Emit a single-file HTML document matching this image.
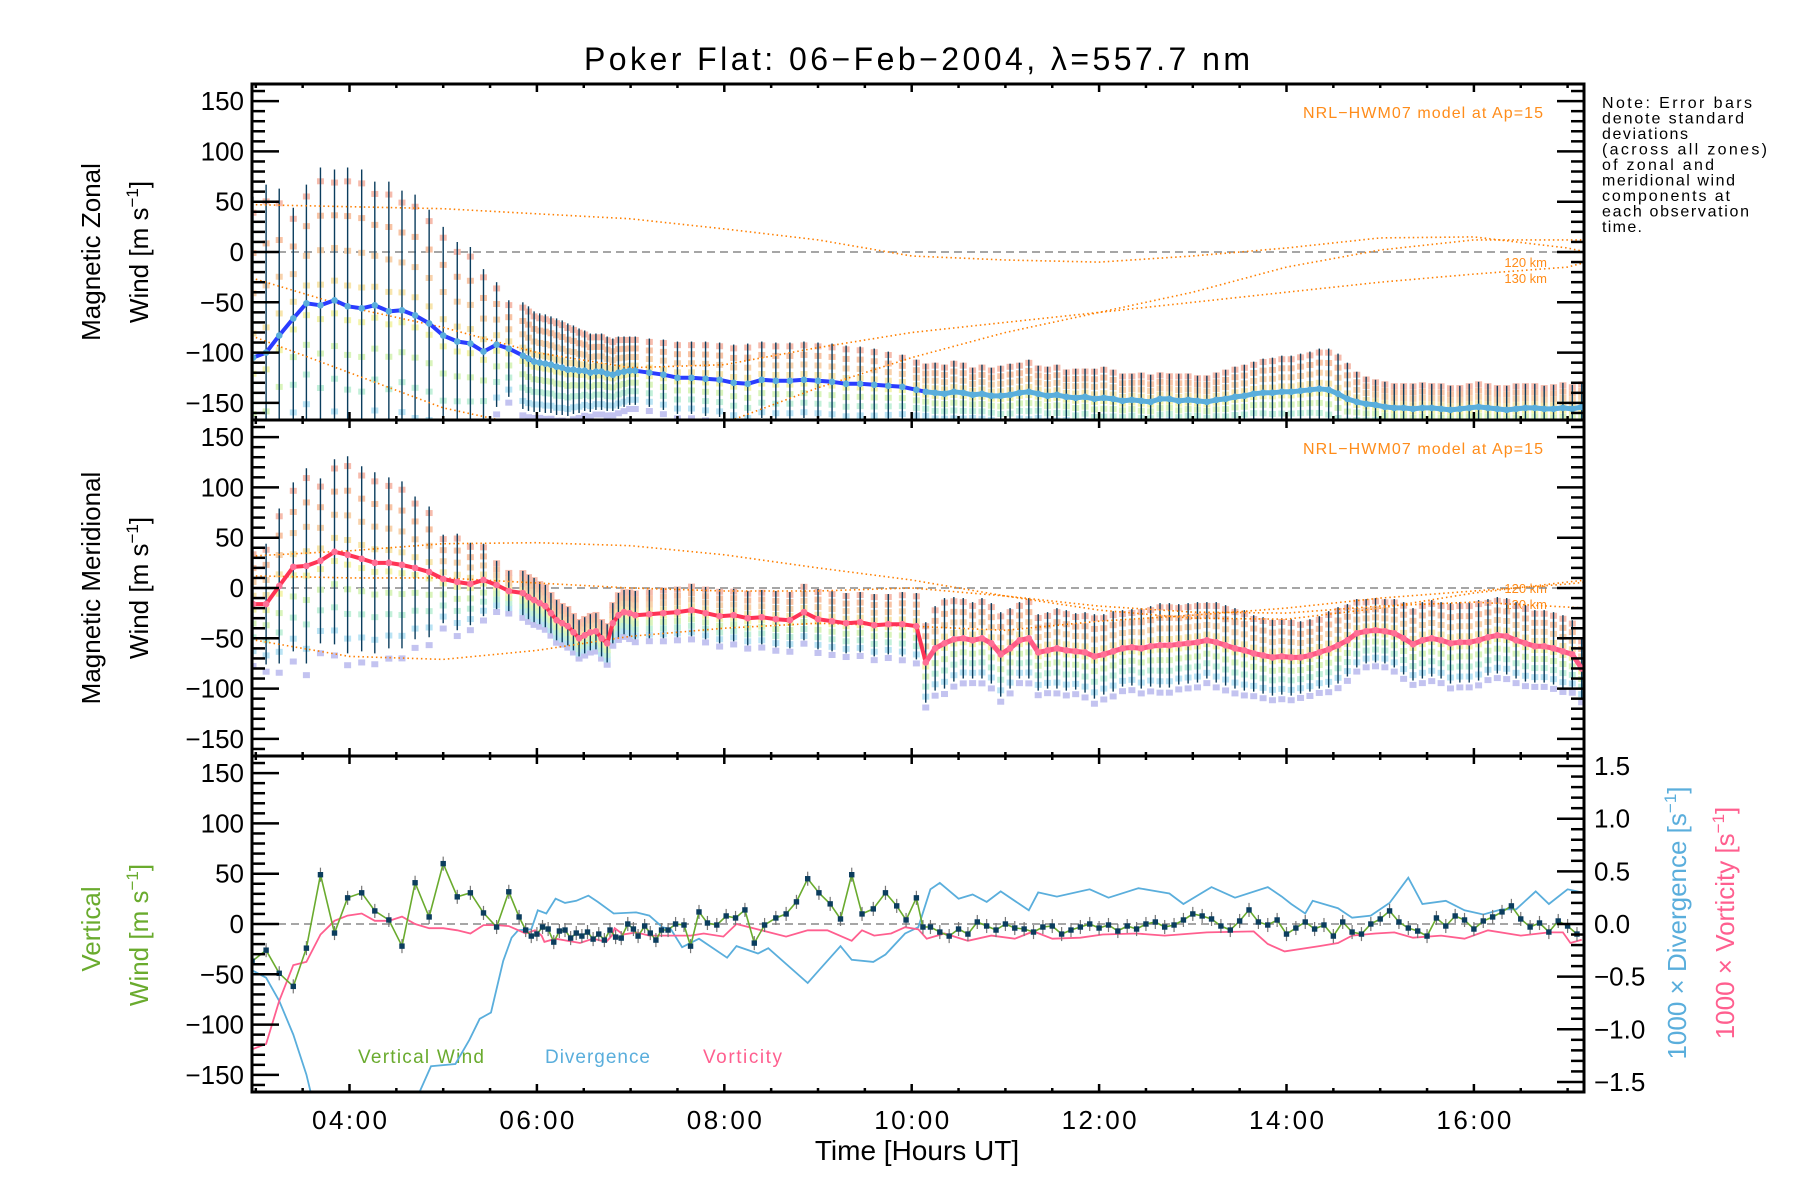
<!DOCTYPE html>
<html><head><meta charset="utf-8"><title>Poker Flat winds</title>
<style>
html,body{margin:0;padding:0;background:#fff;}
svg{display:block;font-family:"Liberation Sans",sans-serif;}
</style></head>
<body>
<svg id="chart" xmlns="http://www.w3.org/2000/svg" width="1800" height="1200" viewBox="0 0 1800 1200">
<defs>
<clipPath id="clip0"><rect x="252" y="84" width="1332" height="336"/></clipPath>
<clipPath id="clip1"><rect x="252" y="420" width="1332" height="336"/></clipPath>
<clipPath id="clip2"><rect x="252" y="756" width="1332" height="336"/></clipPath>
</defs>
<rect x="0" y="0" width="1800" height="1200" fill="#fff"/>
<text x="917" y="70" text-anchor="middle" font-size="32" textLength="666">Poker Flat: 06−Feb−2004, λ=557.7 nm</text>
<g font-size="16" fill="#000">
<text x="1602" y="108" textLength="150">Note: Error bars</text>
<text x="1602" y="123.5" textLength="142">denote standard</text>
<text x="1602" y="139" textLength="86">deviations</text>
<text x="1602" y="154.5" textLength="165">(across all zones)</text>
<text x="1602" y="170" textLength="112">of zonal and</text>
<text x="1602" y="185.5" textLength="133">meridional wind</text>
<text x="1602" y="201" textLength="128">components at</text>
<text x="1602" y="216.5" textLength="147">each observation</text>
<text x="1602" y="232" textLength="40">time.</text>
</g>
<text transform="translate(100,252) rotate(-90)" text-anchor="middle" font-size="26">Magnetic Zonal</text>
<text transform="translate(148,252) rotate(-90)" text-anchor="middle" font-size="26">Wind [m s<tspan dy="-10" font-size="17">−1</tspan><tspan dy="10">]</tspan></text>
<text transform="translate(100,588) rotate(-90)" text-anchor="middle" font-size="26">Magnetic Meridional</text>
<text transform="translate(148,588) rotate(-90)" text-anchor="middle" font-size="26">Wind [m s<tspan dy="-10" font-size="17">−1</tspan><tspan dy="10">]</tspan></text>
<text transform="translate(100,929) rotate(-90)" text-anchor="middle" font-size="26" fill="#6aab2e">Vertical</text>
<text transform="translate(148,935) rotate(-90)" text-anchor="middle" font-size="26" fill="#6aab2e">Wind [m s<tspan dy="-10" font-size="17">−1</tspan><tspan dy="10">]</tspan></text>
<text transform="translate(1686,923) rotate(-90)" text-anchor="middle" font-size="26" fill="#5aaedc">1000 × Divergence [s<tspan dy="-10" font-size="17">−1</tspan><tspan dy="10">]</tspan></text>
<text transform="translate(1734,923) rotate(-90)" text-anchor="middle" font-size="26" fill="#ff5f8f">1000 × Vorticity [s<tspan dy="-10" font-size="17">−1</tspan><tspan dy="10">]</tspan></text>
<text x="917" y="1160" text-anchor="middle" font-size="28">Time [Hours UT]</text>
<text x="1543" y="118" text-anchor="end" font-size="16" fill="#ff8c1a" textLength="240">NRL−HWM07 model at Ap=15</text>
<text x="1543" y="454" text-anchor="end" font-size="16" fill="#ff8c1a" textLength="240">NRL−HWM07 model at Ap=15</text>
<text x="1547" y="267" text-anchor="end" font-size="13" fill="#ff8c1a">120 km</text>
<text x="1547" y="283" text-anchor="end" font-size="13" fill="#ff8c1a">130 km</text>
<text x="1547" y="593" text-anchor="end" font-size="13" fill="#ff8c1a">120 km</text>
<text x="1547" y="609" text-anchor="end" font-size="13" fill="#ff8c1a">130 km</text>
<text x="358" y="1063" font-size="19" fill="#6aab2e" textLength="126">Vertical Wind</text>
<text x="545" y="1063" font-size="19" fill="#5aaedc" textLength="105">Divergence</text>
<text x="703" y="1063" font-size="19" fill="#ff5f8f" textLength="79">Vorticity</text>
</svg>
<script>
// ---------- data ----------
const tEarly=[2.97,3.11,3.25,3.40,3.54,3.69,3.84,3.98,4.13,4.27,4.42,4.56,4.70,4.85,5.00,5.15,5.29,5.43,5.57,5.70];
const zonalEarly=[-105,-100,-83,-66,-51,-53,-48,-54,-56,-53,-59,-58,-63,-71,-83,-89,-91,-99,-92,-96];
const zonalSdEarly=[160,167,146,110,118,137,130,138,138,123,129,119,120,113,108,99,96,82,62,48];
const zonalMid1=[-103,-106,-109,-110,-111,-112,-114,-115,-117,-117,-118,-118,-120,-119,-119,-121,-122,-120,-119,-118,-118];
const zonalSdMid1=[53,52,50,49,49,48,48,47,46,44,42,40,39,38,38,37,36,36,35,34,34];
const zonalMid2=[-120,-122,-125,-125,-126,-127,-130,-131,-127,-128,-128,-127,-128,-129,-131,-131,-132,-133,-134,-137];
const zonalSdMid2=[34,35,36,36,37,37,38,40,38,38,38,38,38,38,38,37,36,34,32,30];
const zonalLate=[-139,-140,-141,-139,-140,-142,-141,-143,-143,-142,-140,-139,-141,-143,-142,-144,-145,-144,-146,-145,-146,-148,-147,-148,-149,-146,-146,-148,-147,-148,-149,-147,-146,-144,-143,-141,-140,-140,-139,-139,-138,-137,-136,-137,-141,-146,-149,-151,-152,-154,-155,-155,-156,-155,-155,-156,-157,-156,-155,-154,-155,-156,-157,-156,-155,-155,-156,-156,-155,-156,-154];
const zonalSdLate=[28,30,29,31,30,27,29,28,30,31,30,32,28,29,30,27,29,28,30,31,29,27,26,28,27,26,25,27,26,25,26,27,29,30,31,32,34,35,36,36,37,38,40,41,40,36,30,27,25,25,24,24,25,25,24,25,24,23,24,25,24,23,24,25,24,24,23,24,25,24,25];
const meridEarly=[-16,-16,2,21,22,27,36,33,29,25,25,23,20,16,9,6,4,8,3,-3];
const meridSdEarly=[55,60,77,84,97,82,92,98,92,90,85,83,71,65,44,48,41,36,24,20];
const meridMid1=[-5,-9,-12,-15,-18,-25,-32,-35,-38,-44,-50,-47,-44,-43,-50,-55,-35,-27,-24,-25,-27];
const meridSdMid1=[22,22,22,21,21,20,20,19,19,18,18,18,18,18,18,19,20,22,22,23,24];
const meridMid2=[-26,-25,-24,-22,-25,-28,-27,-30,-29,-31,-32,-24,-31,-33,-35,-34,-37,-36,-36,-38];
const meridSdMid2=[24,25,25,26,26,27,26,27,27,28,28,28,30,30,30,30,31,30,32,33];
const meridLate=[-74,-60,-55,-51,-50,-52,-50,-55,-66,-60,-52,-50,-64,-62,-60,-62,-63,-64,-68,-66,-63,-60,-59,-60,-58,-57,-57,-56,-55,-54,-52,-54,-57,-60,-62,-65,-67,-69,-68,-69,-69,-67,-64,-61,-57,-52,-45,-43,-42,-43,-45,-50,-56,-52,-50,-52,-55,-54,-54,-52,-49,-47,-48,-52,-55,-58,-58,-60,-63,-66,-80];
const meridSdLate=[40,42,45,42,40,38,40,40,42,40,38,40,38,38,40,40,38,40,42,40,40,38,38,40,40,42,42,40,40,40,38,40,40,40,40,38,38,38,38,38,36,36,36,38,38,36,34,32,32,32,34,36,36,38,38,38,40,40,40,40,38,38,38,38,38,36,36,36,36,34,30];
// model curves (HWM07)
const modelT=[3,4,5,6,7,8,9,10,11,12,13,14,15,16,17,17.2];
const zonalModelA=[47,45,43,38,33,23,12,-4,-8,-10,-4,4,14,15,4,0];
const zonalModelB=[-27,-55,-75,-100,-115,-112,-95,-80,-70,-60,-50,-40,-30,-22,-15,-10];
const zonalModelC=[-85,-120,-155,-175,-178,-170,-135,-105,-80,-60,-40,-15,2,12,12,12];
const meridModelD=[32,37,44,45,42,33,20,8,-8,-22,-30,-31,-20,-5,6,8];
const meridModelE=[12,10,10,5,0,-3,-3,0,-8,-18,-24,-25,-18,-14,-19,-20];
const meridModelF=[-52,-68,-71,-62,-48,-40,-35,-38,-42,-33,-27,-20,-10,-3,4,6];
// vertical wind
const vertTimes=[2.96,3.11,3.25,3.40,3.54,3.69,3.84,3.98,4.13,4.27,4.42,4.56,4.70,4.85,5.00,5.15,5.29,5.43,5.57,5.70,5.81,5.88,
5.94,6.0,6.06,6.12,6.18,6.24,6.3,6.36,6.42,6.48,6.54,6.6,6.66,6.72,6.78,6.84,6.9,6.97,
7.03,7.08,7.15,7.21,7.27,7.33,7.40,7.48,
7.57,7.64,7.73,7.82,7.92,8.02,8.12,8.22,8.32,8.43,8.55,8.66,8.77,8.89,9.01,9.13,9.24,9.36,9.47,9.59,9.72,9.84,9.94,10.05,10.12];
const vertWind=[-37,-26,-49,-62,-24,49,-9,26,31,13,4,-22,41,7,60,27,31,11,-3,32,7,-6,
-12,-10,-3,-5,-18,-7,-6,-14,-9,-12,-8,-15,-10,-16,-6,-13,-14,0,
-5,-12,-2,-9,-16,-6,-6,0,
-1,-22,12,1,-1,8,6,14,-19,-1,6,10,22,45,31,20,5,49,10,15,31,18,4,26,-3];
const vertWindLate=[-3,-8,-12,-5,-10,2,-2,-6,0,-4,-5,-8,-3,-2,-10,-6,-3,0,-4,-1,-7,-2,-5,0,2,-3,-1,4,10,8,5,-2,-6,3,14,2,-1,4,-10,-4,2,-5,-1,-12,2,-8,-10,0,5,13,2,-4,-7,-12,6,-2,8,4,-5,3,7,12,18,5,-3,1,-8,3,-2,-10];
// divergence & vorticity (x1000 s^-1)
const divTimes=[2.96,3.11,3.25,3.40,3.54,3.60,4.72,4.87,5.13,5.28,5.39,5.51,5.64,5.73,5.80,5.94,6.01,6.10,6.20,6.30,6.42,6.55,6.65,6.82,7.06,7.20,7.34,7.43,7.55,7.73,8.03,8.13,8.36,8.47,8.89,9.01,9.24,9.36,9.59,9.72,9.93,10.07,10.20,10.30,10.50,10.65,10.80,10.95,11.25,11.35,11.55,11.90,12.10,12.42,12.75,12.90,13.20,13.45,13.80,13.95,14.05,14.20,14.28,14.55,14.70,14.90,15.10,15.30,15.45,15.70,15.90,16.10,16.30,16.45,16.66,16.80,17.00,17.15];
const divergence=[-0.44,-0.51,-0.73,-1.05,-1.43,-1.65,-1.65,-1.35,-1.33,-1.10,-0.90,-0.84,-0.35,-0.13,-0.06,-0.05,0.13,0.10,0.24,0.20,0.22,0.27,0.21,0.10,0.11,0.08,-0.03,-0.05,-0.22,-0.14,-0.32,-0.21,-0.28,-0.23,-0.56,-0.44,-0.21,-0.34,-0.36,-0.29,-0.09,-0.03,0.33,0.39,0.24,0.28,0.21,0.31,0.13,0.30,0.26,0.33,0.25,0.34,0.29,0.19,0.35,0.25,0.35,0.26,0.19,0.10,0.22,0.15,0.06,0.08,0.20,0.44,0.19,0.22,0.13,0.09,0.14,0.14,0.31,0.19,0.33,0.30];
const vortTimes=[2.96,3.11,3.25,3.40,3.54,3.69,3.84,3.98,4.13,4.27,4.42,4.56,4.70,4.85,5.00,5.15,5.29,5.43,5.57,5.70,5.88,5.98,6.05,6.08,6.20,6.46,6.60,6.74,6.80,6.83,6.92,7.06,7.20,7.64,7.78,7.99,8.13,8.66,8.89,9.10,9.36,9.47,9.60,9.78,9.93,10.07,10.16,10.35,10.60,10.85,11.10,11.30,11.50,11.80,12.04,12.40,12.70,13.15,13.65,13.80,13.98,14.35,14.55,14.70,14.95,15.15,15.35,15.65,15.90,16.15,16.50,16.80,16.95,17.03,17.15];
const vorticity=[-1.19,-1.14,-0.73,-0.39,-0.36,-0.10,0.03,0.08,0.10,0.03,0.03,0.07,0.00,-0.04,-0.04,-0.06,-0.09,-0.01,-0.01,-0.02,-0.09,-0.06,-0.11,-0.17,-0.14,-0.18,-0.14,-0.17,-0.11,-0.04,-0.10,-0.08,-0.11,-0.11,-0.09,-0.12,0.00,-0.12,-0.06,-0.06,-0.16,-0.06,-0.11,-0.09,-0.03,-0.05,-0.14,-0.09,-0.16,-0.11,-0.14,-0.07,-0.14,-0.13,-0.10,-0.09,-0.11,-0.08,-0.07,-0.19,-0.26,-0.21,-0.18,-0.11,-0.09,-0.08,-0.13,-0.11,-0.14,-0.06,-0.11,-0.08,-0.08,-0.18,-0.15];
const yTickLabels=["150","100","50","0","−50","−100","−150"];
const yTickValues=[150,100,50,0,-50,-100,-150];
const rTickLabels=["1.5","1.0","0.5","0.0","−0.5","−1.0","−1.5"];
const rTickValues=[1.5,1.0,0.5,0,-0.5,-1.0,-1.5];
const xTickLabels=["04:00","06:00","08:00","10:00","12:00","14:00","16:00"];
const xTickHours=[4,6,8,10,12,14,16];

// ---------- scales ----------
const NS="http://www.w3.org/2000/svg";
const svg=document.getElementById('chart');
const L=252,R=1584,H=336;
const tops=[84,420,756];
function xs(t){return 349.5+93.7*(t-4);}
function ys(p,v){return tops[p]+H/2-v*(H/334);}
function yr(v){return 924-v*105.3;}
function mk(parent,tag,attrs,name){
  const el=document.createElementNS(NS,tag);
  for(const k in attrs) el.setAttribute(k,attrs[k]);
  
  
  parent.appendChild(el);
  return el;
}
const obsT=[];
tEarly.forEach(t=>obsT.push(t));
for(let i=0;i<zonalMid1.length;i++) obsT.push(+(5.85+0.06*i).toFixed(3));
for(let i=0;i<zonalMid2.length;i++) obsT.push(+(7.2+0.15*i).toFixed(3));
for(let i=0;i<zonalLate.length;i++) obsT.push(+(10.15+0.1*i).toFixed(3));
const nLateStart=tEarly.length+zonalMid1.length+zonalMid2.length;
const zonalMean=[].concat(zonalEarly,zonalMid1,zonalMid2,zonalLate);
const zonalSd=[].concat(zonalSdEarly,zonalSdMid1,zonalSdMid2,zonalSdLate);
const meridMean=[].concat(meridEarly,meridMid1,meridMid2,meridLate);
const meridSd=[].concat(meridSdEarly,meridSdMid1,meridSdMid2,meridSdLate);

const zoneOffsets=[-1.12,-0.85,-0.6,-0.35,-0.1,0.15,0.4,0.65,0.9];
const zoneColors=["#c0c0f0","#b6e2f4","#bff0d8","#d8f4b8","#f4f4a8","#f8e4a8","#f8d0a8","#f8c0a0","#f6b8a8"];

function windPanel(p,mean,sd,lineCol,markCol,lateCol,models,nameBase){
  const g=mk(svg,'g',{'clip-path':'url(#clip'+p+')'},nameBase+'-plot-area');
  mk(g,'line',{x1:L,x2:R,y1:ys(p,0),y2:ys(p,0),stroke:'#888','stroke-width':1.5,'stroke-dasharray':'8,5'},nameBase+'-zero-line');
  const gz=mk(g,'g',{opacity:0.95},nameBase+'-zone-points');
  for(let i=0;i<mean.length;i++){
    for(let k=0;k<zoneOffsets.length;k++){
      const v=mean[i]+zoneOffsets[k]*sd[i];
      mk(gz,'rect',{x:xs(obsT[i])-3.5,y:ys(p,v)-3,width:7,height:6,fill:zoneColors[k]},nameBase+'-zone-point');
    }
  }
  const ge=mk(g,'g',{stroke:'#0b3d5e','stroke-width':1.4},nameBase+'-error-bars');
  for(let i=0;i<mean.length;i++){
    mk(ge,'line',{x1:xs(obsT[i]),x2:xs(obsT[i]),y1:ys(p,mean[i]+sd[i]),y2:ys(p,mean[i]-sd[i])},nameBase+'-error-bar');
  }
  models.forEach((m,j)=>{
    const pts=modelT.map((t,i)=>xs(t).toFixed(1)+','+ys(p,m[i]).toFixed(1)).join(' ');
    mk(g,'polyline',{points:pts,fill:'none',stroke:'#ff7f00','stroke-width':1.6,'stroke-dasharray':'1.5,3'},nameBase+'-model-curve');
  });
  const pts=mean.map((v,i)=>xs(obsT[i]).toFixed(1)+','+ys(p,v).toFixed(1)).join(' ');
  mk(g,'polyline',{points:pts,fill:'none',stroke:lineCol,'stroke-width':4,'stroke-linejoin':'round'},nameBase+'-mean-line');
  const ptsLate=mean.slice(nLateStart).map((v,i)=>xs(obsT[i+nLateStart]).toFixed(1)+','+ys(p,v).toFixed(1)).join(' ');
  mk(g,'polyline',{points:ptsLate,fill:'none',stroke:lateCol,'stroke-width':5,'stroke-linejoin':'round'},nameBase+'-mean-line-late');
  for(let i=0;i<mean.length;i++){
    mk(g,'circle',{cx:xs(obsT[i]),cy:ys(p,mean[i]),r:3.3,fill:markCol},nameBase+'-mean-marker');
  }
}
windPanel(0,zonalMean,zonalSd,'#2a3cff','#5aaedc','#5aaedc',[zonalModelA,zonalModelB,zonalModelC],'zonal');
windPanel(1,meridMean,meridSd,'#ff3355','#ff7096','#ff5a85',[meridModelD,meridModelE,meridModelF],'meridional');

(function(){
  const g=mk(svg,'g',{'clip-path':'url(#clip2)'},'vertical-plot-area');
  mk(g,'line',{x1:L,x2:R,y1:ys(2,0),y2:ys(2,0),stroke:'#888','stroke-width':1.5,'stroke-dasharray':'8,5'},'vertical-zero-line');
  const vt=vertTimes.slice(), vw=vertWind.slice();
  for(let i=0;i<vertWindLate.length;i++){vt.push(+(10.2+0.1*i).toFixed(3)); vw.push(vertWindLate[i]);}
  const dp=divTimes.map((t,i)=>xs(t).toFixed(1)+','+yr(divergence[i]).toFixed(1)).join(' ');
  mk(g,'polyline',{points:dp,fill:'none',stroke:'#5aaedc','stroke-width':1.8},'divergence-line');
  const vp=vortTimes.map((t,i)=>xs(t).toFixed(1)+','+yr(vorticity[i]).toFixed(1)).join(' ');
  mk(g,'polyline',{points:vp,fill:'none',stroke:'#ff5f8f','stroke-width':1.8},'vorticity-line');
  const ge=mk(g,'g',{stroke:'#777','stroke-width':1.2},'vertical-error-bars');
  vt.forEach((t,i)=>{
    mk(ge,'line',{x1:xs(t),x2:xs(t),y1:ys(2,vw[i]+7),y2:ys(2,vw[i]-7)},'vertical-error-bar');
  });
  const wp=vt.map((t,i)=>xs(t).toFixed(1)+','+ys(2,vw[i]).toFixed(1)).join(' ');
  mk(g,'polyline',{points:wp,fill:'none',stroke:'#6aab2e','stroke-width':1.6},'vertical-wind-line');
  vt.forEach((t,i)=>{
    mk(g,'rect',{x:xs(t)-2.7,y:ys(2,vw[i])-2.7,width:5.4,height:5.4,fill:'#0b3d5e'},'vertical-wind-marker');
  });
})();

const ga=mk(svg,'g',{stroke:'#000','stroke-width':2.5},'axes');
for(let p=0;p<3;p++){
  mk(ga,'rect',{x:L,y:tops[p],width:R-L,height:H,fill:'none','stroke-width':3},'panel-frame-'+(p+1));
  for(let v=-160;v<=160;v+=10){
    const y=ys(p,v);
    if(y<tops[p]+1||y>tops[p]+H-1) continue;
    const len=(v%50===0)?27:13;
    mk(ga,'line',{x1:L,x2:L+len,y1:y,y2:y},'y-tick');
    if(p<2) mk(ga,'line',{x1:R,x2:R-len,y1:y,y2:y},'y-tick-right');
  }
  for(let t=3;t<=17;t+=0.5){
    const x=xs(t), len=(t%2===0)?8:4;
    mk(ga,'line',{x1:x,x2:x,y1:tops[p],y2:tops[p]+len},'x-tick-top');
    mk(ga,'line',{x1:x,x2:x,y1:tops[p]+H,y2:tops[p]+H-len},'x-tick-bottom');
  }
}
for(let k=-15;k<=15;k++){
  const v=k/10, y=yr(v);
  const len=(k%5===0)?27:13;
  mk(ga,'line',{x1:R,x2:R-len,y1:y,y2:y},'right-y-tick');
}
const gl=mk(svg,'g',{'font-size':26,fill:'#000'},'tick-labels');
for(let p=0;p<3;p++){
  yTickValues.forEach((v,i)=>{
    const t=mk(gl,'text',{x:244,y:ys(p,v)+9,'text-anchor':'end'},'y-tick-label');
    t.textContent=yTickLabels[i];
  });
}
rTickValues.forEach((v,i)=>{
  const t=mk(gl,'text',{x:1594,y:yr(v)+9},'right-y-tick-label');
  t.textContent=rTickLabels[i];
});
xTickHours.forEach((h,i)=>{
  const t=mk(gl,'text',{x:xs(h),y:1129,'text-anchor':'middle',textLength:75},'x-tick-label');
  t.textContent=xTickLabels[i];
});
</script>
</body></html>
